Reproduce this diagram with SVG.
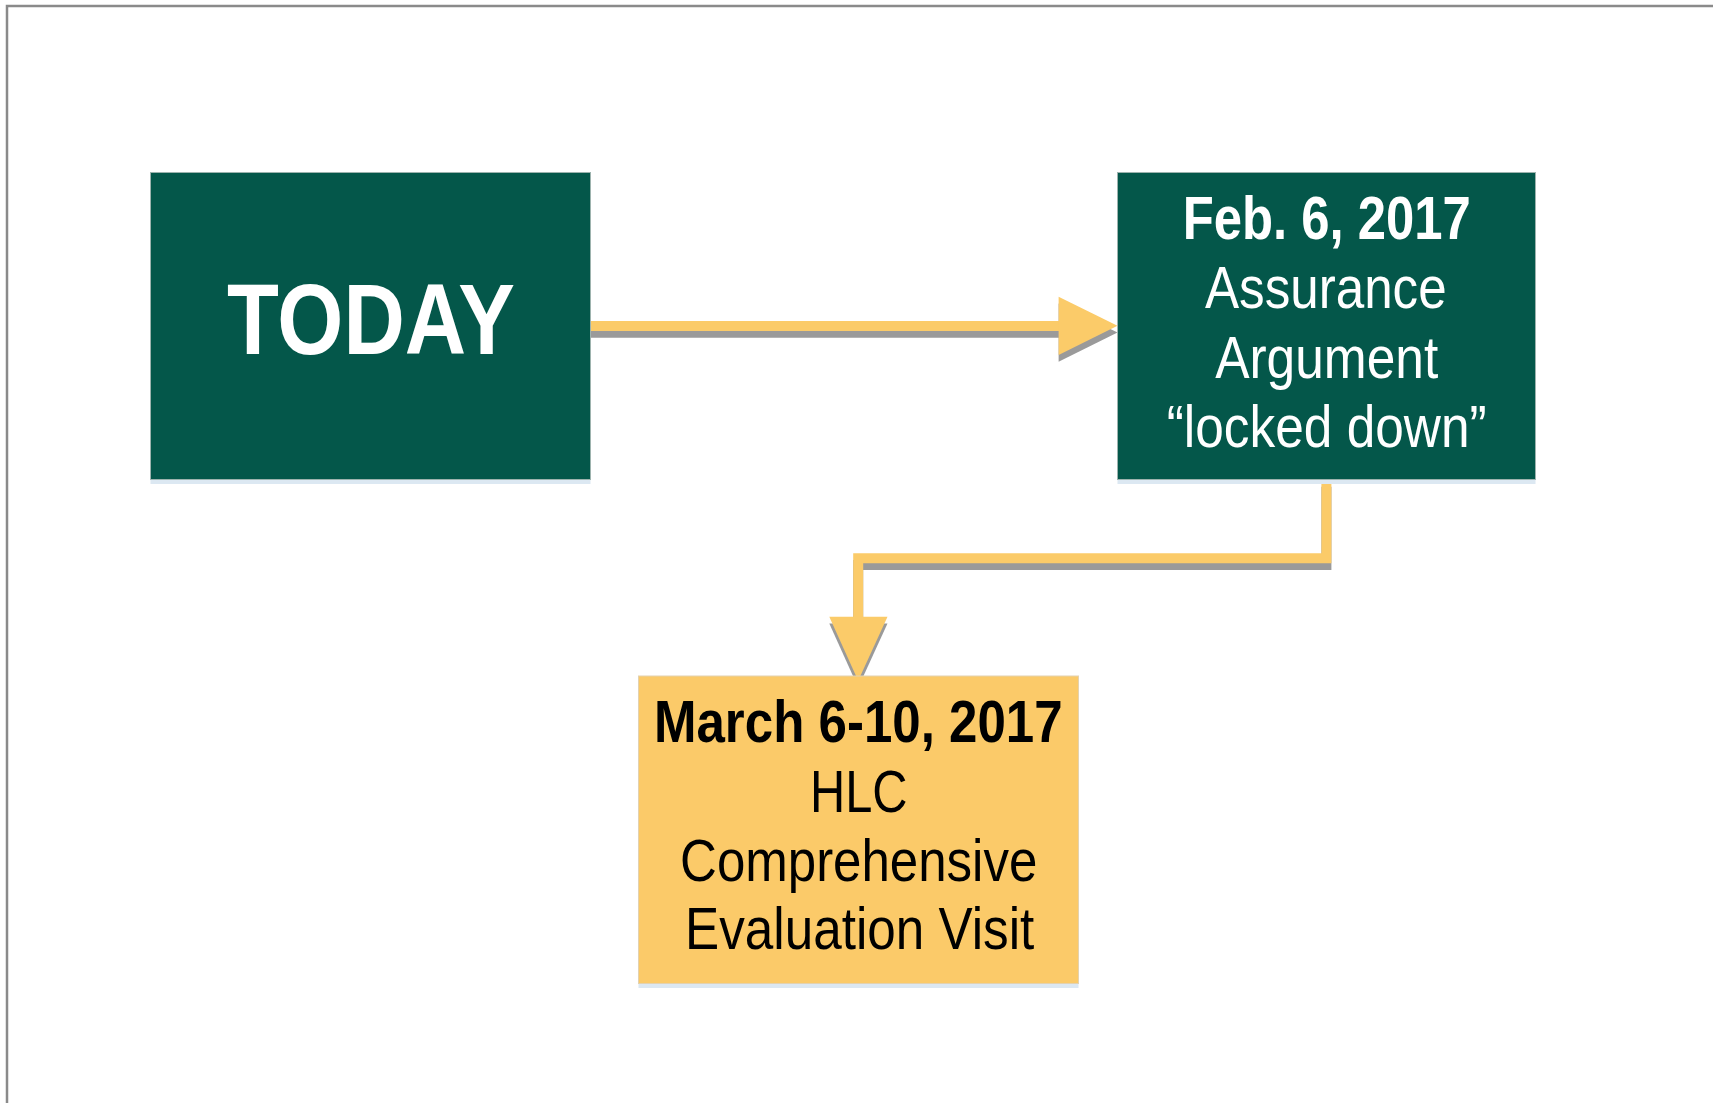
<svg xmlns="http://www.w3.org/2000/svg" width="1713" height="1103" viewBox="0 0 1713 1103">
<style>
.box-green{fill:#04574A;stroke:#9DB3AE;stroke-width:1}
.box-orange{fill:#FBCA69;stroke:#E3D2B0;stroke-width:1}
.under{fill:#DCE8F2}
.t{font-family:"Liberation Sans Narrow","Liberation Sans",Arial,sans-serif;text-anchor:middle}
.w{fill:#FFFFFF}
.k{fill:#000000}
.b{font-weight:bold}
.bar{fill:none;stroke:#FBCB69;stroke-width:10;stroke-linejoin:miter;stroke-linecap:butt}
.bar-sh{fill:none;stroke:#9A9A9A;stroke-width:10;stroke-linejoin:miter;stroke-linecap:butt}
.head{fill:#FBCB69}
.head-sh{fill:#9A9A9A}
</style>
<rect width="1713" height="1103" fill="#FFFFFF"/>
<rect x="7" y="6" width="1730" height="1120" fill="none" stroke="#8A8A8A" stroke-width="2.5"/>

<g id="connectors">
  <g transform="translate(0,6.7)">
    <path class="bar-sh" d="M590.7,326 H1059"/>
    <polygon class="head-sh" points="1058.6,296.7 1117.5,325.7 1058.6,355"/>
    <path class="bar-sh" d="M1326.4,480 V558.3 H858.2 V617"/>
    <polygon class="head-sh" points="829.3,616.7 887.5,616.7 858.2,680.7"/>
  </g>
  <path class="bar" d="M590.7,326 H1059"/>
  <polygon class="head" points="1058.6,296.7 1117.5,325.7 1058.6,355"/>
  <path class="bar" d="M1326.4,480 V558.3 H858.2 V617"/>
  <polygon class="head" points="829.3,616.7 887.5,616.7 858.2,680.7"/>
</g>

<g id="node-today">
  <rect class="under" x="150.5" y="479" width="440" height="5"/>
  <rect class="box-green" x="150.5" y="172.5" width="440" height="307"/>
  <text class="t w b" x="371" y="354.3" font-size="101" textLength="288" lengthAdjust="spacingAndGlyphs">TODAY</text>
</g>

<g id="node-feb">
  <rect class="under" x="1117.5" y="479" width="418" height="5"/>
  <rect class="box-green" x="1117.5" y="172.5" width="418" height="307"/>
  <text class="t w b" x="1326.7" y="239" font-size="61" textLength="288" lengthAdjust="spacingAndGlyphs">Feb. 6, 2017</text>
  <text class="t w" x="1325.8" y="307.7" font-size="60" textLength="241.7" lengthAdjust="spacingAndGlyphs">Assurance</text>
  <text class="t w" x="1326.7" y="378.3" font-size="60" textLength="223" lengthAdjust="spacingAndGlyphs">Argument</text>
  <text class="t w" x="1326.7" y="447.3" font-size="60" textLength="320" lengthAdjust="spacingAndGlyphs">“locked down”</text>
</g>

<g id="node-march">
  <rect class="under" x="638.5" y="983" width="440" height="5"/>
  <rect class="box-orange" x="638.5" y="676" width="440" height="307.5"/>
  <text class="t k b" x="858.3" y="742.3" font-size="60" textLength="408.7" lengthAdjust="spacingAndGlyphs">March 6-10, 2017</text>
  <text class="t k" x="858.8" y="811.7" font-size="60" textLength="97.7" lengthAdjust="spacingAndGlyphs">HLC</text>
  <text class="t k" x="858.7" y="880.7" font-size="60" textLength="357.3" lengthAdjust="spacingAndGlyphs">Comprehensive</text>
  <text class="t k" x="859.7" y="949.3" font-size="60" textLength="349.3" lengthAdjust="spacingAndGlyphs">Evaluation Visit</text>
</g>
</svg>
